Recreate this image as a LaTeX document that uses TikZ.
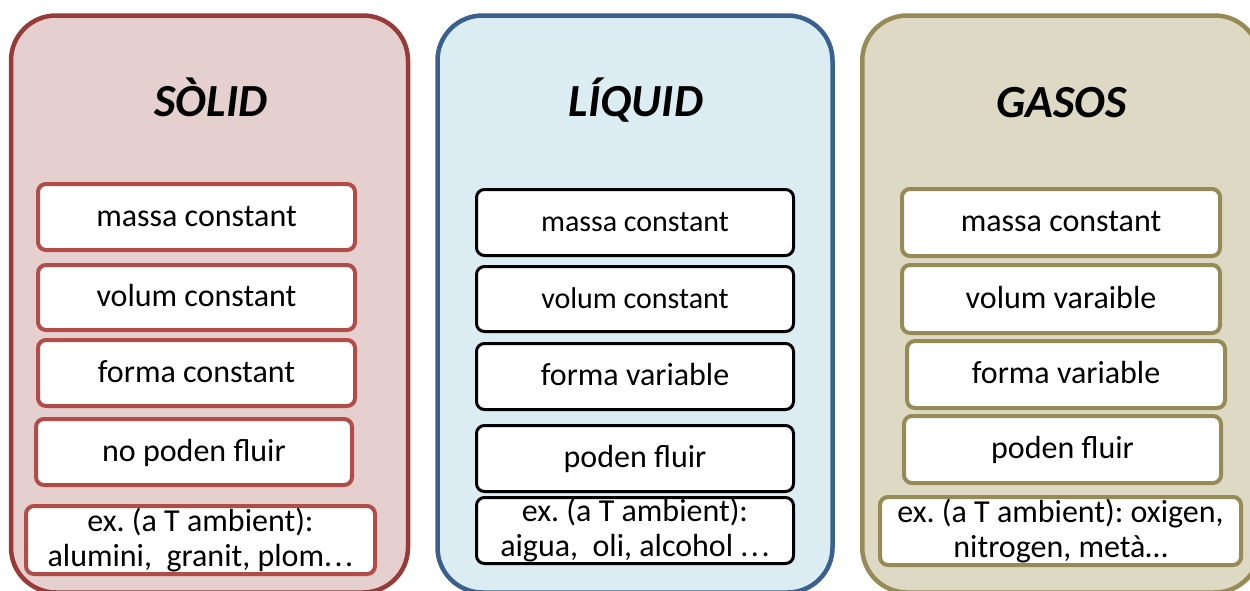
\documentclass[tikz,border=0pt]{standalone}
\usepackage{fontspec}
\setmainfont{Carlito}
\frenchspacing
\definecolor{redS}{RGB}{152,58,56}
\definecolor{redF}{RGB}{230,207,207}
\definecolor{redI}{RGB}{178,76,73}
\definecolor{bluS}{RGB}{58,96,143}
\definecolor{bluF}{RGB}{219,237,243}
\definecolor{oliS}{RGB}{150,139,86}
\definecolor{oliF}{RGB}{221,217,196}
\tikzset{
  outerbox/.style={rectangle, rounded corners=45pt, line width=4.5pt, minimum width=397pt, minimum height=577pt, inner sep=0pt},
  titletxt/.style={font=\fontsize{46}{50}\selectfont\bfseries\itshape, anchor=base, inner sep=0pt},
  ibox/.style={rectangle, rounded corners=8pt, fill=white, inner sep=0pt, align=center,
    font=\fontsize{32}{35}\selectfont, text height=20pt, text depth=2pt},
  exbox/.style={rectangle, rounded corners=8pt, fill=white, inner sep=0pt, align=center,
    font=\fontsize{32}{35}\selectfont},
  redbox/.style={draw=redI, line width=4pt},
  blubox/.style={draw=black, line width=3pt},
  olibox/.style={draw=oliS, line width=4pt},
}
\begin{document}
\begin{tikzpicture}[x=1pt,y=-1pt]
\useasboundingbox (0,0) rectangle (1250,590);
\clip (0,0) rectangle (1250,590);
% outer panels
\node[outerbox, draw=redS, fill=redF] (solid) at (209.5,304) {};
\node[outerbox, draw=bluS, fill=bluF, minimum width=395pt] (liquid) at (635,304) {};
\node[outerbox, draw=oliS, fill=oliF, minimum width=397.5pt] (gas) at (1061,304) {};
% titles
\node[titletxt] (tsolid) at (211,116) {SÒLID};
\node[titletxt] (tliquid) at (636,116) {LÍQUID};
\node[titletxt] (tgas) at (1061.5,117) {GASOS};
% solid
\node[ibox, redbox, minimum width=317pt, minimum height=66pt] (s1) at (196.5,217) {massa constant};
\node[ibox, redbox, minimum width=317pt, minimum height=65pt] (s2) at (196.5,297.5) {volum constant};
\node[ibox, redbox, minimum width=317pt, minimum height=66pt] (s3) at (196.5,373) {forma constant};
\node[ibox, redbox, minimum width=316pt, minimum height=66pt] (s4) at (194,452) {no poden fluir};
\node[exbox, redbox, minimum width=349pt, minimum height=68pt] (s5) at (200.5,540) {ex. (a T ambient):\\alumini,\space\space granit, plom.\kern2.5pt.\kern2.5pt.};
% liquid
\node[ibox, blubox, minimum width=317pt, minimum height=66pt, font=\fontsize{30}{33}\selectfont] (l1) at (635,222.5) {massa constant};
\node[ibox, blubox, minimum width=317pt, minimum height=65pt, font=\fontsize{30}{33}\selectfont] (l2) at (635,299) {volum constant};
\node[ibox, blubox, minimum width=317pt, minimum height=66pt] (l3) at (635,376.5) {forma variable};
\node[ibox, blubox, minimum width=317pt, minimum height=66pt] (l4) at (635,458.5) {poden fluir};
\node[exbox, blubox, minimum width=317pt, minimum height=66pt] (l5) at (635,530.5) {ex. (a T ambient):\\aigua,\space\space oli, alcohol .\kern2.5pt.\kern2.5pt.};
% gases
\node[ibox, olibox, minimum width=318pt, minimum height=67pt] (g1) at (1061,222.5) {massa constant};
\node[ibox, olibox, minimum width=318pt, minimum height=68pt] (g2) at (1061,299) {volum varaible};
\node[ibox, olibox, minimum width=318pt, minimum height=67pt] (g3) at (1066,374.5) {forma variable};
\node[ibox, olibox, minimum width=317pt, minimum height=67pt] (g4) at (1062.5,449.5) {poden fluir};
\node[exbox, olibox, minimum width=361pt, minimum height=68pt] (g5) at (1060.5,531) {ex. (a T ambient): oxigen,\\nitrogen, metà…};
\end{tikzpicture}
\end{document}
